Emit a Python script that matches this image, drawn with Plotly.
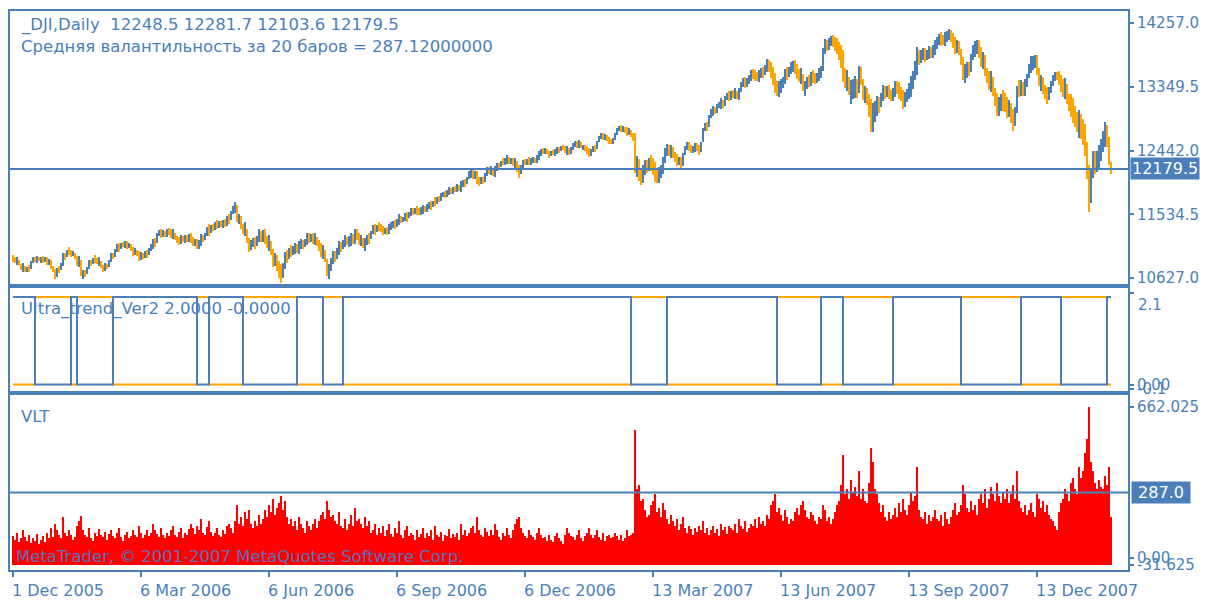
import plotly.graph_objects as go

# ---------------- data ----------------
close = [
10900, 10860, 10880, 10810, 10760, 10790, 10717, 10770, 10750, 10870,
10907, 10870, 10920, 10870, 10900, 10880, 10907, 10840, 10860, 10788,
10720, 10655, 10760, 10740, 10836, 10950, 10920, 11026, 11000, 10960,
10990, 10900, 10850, 10880, 10655, 10700, 10680, 10788, 10860, 10830,
10907, 10890, 10850, 10870, 10770, 10760, 10800, 10780, 10883, 10950,
10930, 11040, 11073, 11050, 11110, 11090, 11121, 11080, 11100, 11020,
10990, 11010, 10950, 10920, 10960, 10931, 10980, 10960, 11050, 11073,
11150, 11120, 11263, 11280, 11250, 11270, 11240, 11300, 11287, 11240,
11260, 11180, 11168, 11150, 11190, 11168, 11200, 11180, 11216, 11180,
11120, 11140, 11073, 11130, 11200, 11180, 11263, 11320, 11300, 11358,
11340, 11390, 11380, 11406, 11380, 11420, 11406, 11480, 11460, 11580,
11620, 11640, 11453, 11480, 11350, 11311, 11330, 11120, 11073, 11120,
11150, 11100, 11220, 11240, 11200, 11263, 11180, 11100, 11150, 10950,
10880, 10900, 10780, 10720, 10670, 10800, 10950, 10920, 11026, 11010,
11026, 11060, 11030, 11100, 11120, 11090, 11168, 11200, 11190, 11210,
11168, 11190, 11100, 11073, 10980, 11010, 10880, 10680, 10760, 10883,
10950, 10920, 11026, 11080, 11060, 11150, 11168, 11140, 11160, 11200,
11168, 11263, 11220, 11150, 11180, 11073, 11140, 11200, 11180, 11300,
11340, 11300, 11370, 11358, 11320, 11287, 11310, 11290, 11358, 11380,
11400, 11380, 11450, 11470, 11440, 11480, 11510, 11490, 11560, 11580,
11560, 11600, 11580, 11570, 11596, 11620, 11600, 11650, 11670, 11650,
11720, 11715, 11760, 11740, 11810, 11830, 11800, 11860, 11870, 11850,
11900, 11890, 11920, 11900, 11960, 11991, 11970, 12070, 12109, 12120,
12080, 12100, 12010, 11990, 12030, 12000, 12120, 12166, 12150, 12170,
12100, 12180, 12230, 12210, 12290, 12280, 12300, 12320, 12290, 12309,
12250, 12270, 12160, 12133, 12220, 12290, 12270, 12300, 12285, 12300,
12310, 12290, 12350, 12400, 12441, 12430, 12450, 12400, 12380, 12420,
12400, 12430, 12451, 12440, 12500, 12470, 12430, 12460, 12400, 12480,
12522, 12540, 12520, 12550, 12480, 12490, 12470, 12430, 12400, 12440,
12480, 12460, 12580, 12641, 12650, 12630, 12640, 12600, 12580, 12561,
12600, 12680, 12750, 12760, 12740, 12760, 12720, 12700, 12720, 12641,
12620, 12190, 12230, 12100, 12050, 12166, 12230, 12200, 12290, 12250,
12180, 12100, 12060, 12130, 12166, 12300, 12441, 12460, 12418, 12440,
12380, 12330, 12285, 12300, 12250, 12380, 12498, 12520, 12480, 12450,
12470, 12508, 12480, 12420, 12560, 12760, 12800, 12780, 12950, 12990,
13020, 13000, 13080, 13100, 13116, 13090, 13200, 13230, 13210, 13250,
13249, 13260, 13200, 13300, 13401, 13420, 13400, 13420, 13480, 13544,
13520, 13500, 13480, 13530, 13560, 13540, 13640, 13662, 13620, 13550,
13450, 13350, 13300, 13340, 13377, 13450, 13550, 13520, 13600, 13620,
13650, 13600, 13540, 13480, 13520, 13300, 13360, 13450, 13420, 13510,
13480, 13450, 13500, 13540, 13580, 13900, 13950, 13920, 13995, 14010,
13980, 13950, 13900, 13820, 13734, 13550, 13400, 13470, 13250, 13300,
13330, 13360, 13300, 13605, 13400, 13225, 13260, 13163, 13000, 12880,
12950, 13050, 13100, 13080, 13230, 13280, 13260, 13306, 13250, 13200,
13280, 13350, 13320, 13282, 13200, 13139, 13200, 13250, 13320, 13392,
13500, 13650, 13781, 13760, 13800, 13819, 13780, 13820, 13850, 13830,
13876, 13950, 14000, 14042, 14020, 14000, 14050, 14080, 14100, 14040,
13980, 13900, 13950, 13850, 13700, 13520, 13560, 13615, 13580, 13800,
13876, 13900, 13930, 13850, 13700, 13750, 13544, 13480, 13400, 13450,
13258, 13150, 13050, 13100, 13163, 13150, 13100, 13020, 13060, 12900,
12850, 13000, 13330, 13320, 13344, 13300, 13380, 13500, 13650, 13680,
13700, 13720, 13600, 13377, 13430, 13300, 13250, 13202, 13300, 13400,
13480, 13510, 13500, 13450, 13350, 13306, 13350, 13150, 13100, 13068,
12950, 12900, 12800, 12840, 12720, 12688, 12500, 12100, 11700, 12200,
12285, 12250, 12309, 12400, 12500, 12640, 12700, 12600, 12265, 12179.5,
]

vlt = [
95, 80, 110, 70, 85, 120, 90, 75, 100, 65,
88, 72, 105, 60, 80, 95, 70, 110, 85, 130,
90, 150, 120, 100, 85, 180, 110, 95, 120, 100,
80, 90, 140, 160, 185, 120, 100, 90, 130, 85,
75, 110, 95, 125, 100, 90, 115, 80, 105, 120,
95, 85, 110, 130, 90, 75, 100, 115, 85, 95,
120, 100, 90, 140, 110, 85, 100, 120, 95, 110,
150, 120, 105, 90, 130, 100, 85, 110, 95, 120,
140, 100, 90, 115, 130, 85, 110, 100, 125, 150,
130, 105, 140, 120, 170, 110, 100, 135, 160, 115,
95, 110, 130, 100, 90, 120, 105, 140, 150, 130,
110, 160, 230, 150, 180, 140, 200, 170, 210, 150,
130, 160, 140, 190, 150, 170, 210, 180, 230, 200,
260, 190, 220, 240, 270, 210, 250, 180, 150, 170,
140, 160, 120, 180, 150, 130, 110, 160, 140, 120,
150, 170, 130, 160, 190, 200, 170, 250, 210, 180,
190, 160, 150, 200, 140, 130, 170, 120, 150, 190,
140, 220, 160, 170, 150, 130, 180, 140, 160, 110,
120, 150, 100, 130, 110, 140, 95, 120, 150, 105,
90, 130, 110, 160, 100, 85, 120, 140, 95, 110,
100, 80, 120, 90, 105, 130, 85, 110, 95, 120,
80, 140, 100, 90, 115, 75, 100, 95, 125, 85,
105, 90, 110, 80, 150, 100, 120, 95, 110, 130,
140, 110, 180, 120, 100, 90, 130, 115, 95, 120,
100, 150, 120, 90, 80, 110, 95, 130, 100, 85,
120, 150, 170, 180, 130, 110, 95, 85, 120, 100,
90, 80, 110, 130, 100, 85, 90, 75, 100, 80,
70, 95, 110, 85, 75, 60, 100, 130, 110, 95,
90, 80, 100, 120, 85, 75, 95, 110, 130, 100,
85, 100, 120, 90, 80, 110, 75, 95, 100, 85,
90, 110, 95, 80, 100, 75, 85, 120, 95, 100,
110, 560, 300, 320, 250, 260, 210, 180, 190, 230,
250, 280, 200, 220, 180, 240, 210, 170, 150, 190,
160, 140, 170, 120, 150, 180, 130, 110, 140, 125,
100, 130, 115, 140, 120, 160, 110, 130, 100, 120,
140, 110, 125, 95, 150, 120, 135, 105, 140, 130,
120, 150, 110, 170, 140, 125, 160, 115, 130, 150,
140, 170, 130, 180, 150, 160, 140, 190, 170, 230,
250, 280, 200, 220, 190, 160, 210, 180, 150, 170,
160, 200, 220, 190, 230, 250, 210, 180, 170, 200,
190, 160, 150, 180, 170, 230, 210, 160, 180, 150,
170, 200, 230, 250, 320, 450, 280, 300, 260, 340,
290, 310, 270, 380, 260, 300, 250, 240, 330, 480,
420, 300, 280, 240, 200, 230, 180, 160, 200, 170,
190, 220, 180, 240, 200, 260, 210, 190, 230, 290,
250, 270, 400, 210, 180, 170, 200, 150, 190, 160,
180, 210, 170, 160, 190, 140, 200, 170, 150, 180,
210, 240, 190, 200, 230, 320, 280, 220, 200, 250,
210, 230, 190, 260, 280, 240, 300, 220, 260, 310,
280, 250, 330, 270, 240, 290, 260, 300, 240, 280,
320, 260, 380, 250, 220, 200, 230, 190, 210, 240,
200, 180, 280, 260, 220, 250, 200, 230, 190, 170,
160, 140, 120, 200, 240, 260, 300, 280, 250, 330,
350, 300, 280, 400, 350, 380, 460, 520, 662.025, 420,
380, 330, 300, 340, 310, 300, 360, 320, 400, 178.1,
]

first_open = 10912
last_open, last_high, last_low, last_close = 12248.5, 12281.7, 12103.6, 12179.5
avg_vlt = 287.12        # value quoted in the header text
vlt_level = 287.0       # horizontal level drawn in the VLT window

# Ultra_trend switches (bar index where the two lines swap)
trend_switch = [11, 29, 32, 50, 92, 98, 115, 142, 155, 165, 309, 327,
                382, 404, 415, 440, 474, 504, 524, 547]

price_ticks = [10627.0, 11534.5, 12442.0, 13349.5, 14257.0]
x_tick_bars = [0, 64, 128, 192, 256, 320, 384, 448, 512]
x_tick_labels = ["1 Dec 2005", "6 Mar 2006", "6 Jun 2006", "6 Sep 2006", "6 Dec 2006",
                 "13 Mar 2007", "13 Jun 2007", "13 Sep 2007", "13 Dec 2007"]
vlt_ticks = [662.025, 0.0, -31.625]
vlt_tick_text = ["662.025", "0.00", "-31.625"]
trend_ticks = [2.1, 0.0, -0.1]
trend_tick_text = ["", "0.00", "-0.1"]

assert len(close) == 550 and len(vlt) == 550, (len(close), len(vlt))

# ---------------- derived ----------------
n = len(close)
idx = list(range(n))
opn = [first_open] + close[:-1]
opn[-1] = last_open
high, low = [], []
for o, c, v in zip(opn, close, vlt):
    hi, lo = max(o, c), min(o, c)
    extra = max(v - (hi - lo), 0)
    high.append(hi + extra / 2)
    low.append(lo - extra / 2)
high[-1], low[-1] = last_high, last_low

BLUE = "#4B7FBA"
ORANGE = "#FFA500"
RED = "#FF0000"
FONT = "DejaVu Sans"

bar_colors = [BLUE if c >= o else ORANGE for o, c in zip(opn, close)]

blue_lvl, orange_lvl = [], []
blue_top = True
sw = set(trend_switch)
for i in idx:
    if i in sw:
        blue_top = not blue_top
    blue_lvl.append(2 if blue_top else 0)
    orange_lvl.append(0 if blue_top else 2)

VLT_MIN = vlt_ticks[-1]

# ---------------- figure ----------------
# the page body has an 8px margin, so the figure is laid out 8px smaller
OFF = 8
W, H = 1200, 593
ML, MR, MT, MB = 2, 80, 3, 31
PH = H - MT - MB
PW = W - ML - MR


def py(pix):
    return (H - MB - (pix - OFF)) / PH


def px(pix):
    return ((pix - OFF) - ML) / PW


fig = go.Figure()
fig.add_trace(go.Bar(x=idx, base=low, y=[h - l for h, l in zip(high, low)], width=1.0,
                     marker=dict(color=bar_colors, line=dict(width=0)),
                     xaxis="x", yaxis="y", hoverinfo="skip"))
fig.add_trace(go.Scatter(x=idx, y=orange_lvl, mode="lines",
                         line=dict(color=ORANGE, width=2, shape="hv"),
                         xaxis="x2", yaxis="y2", hoverinfo="skip"))
fig.add_trace(go.Scatter(x=idx, y=blue_lvl, mode="lines",
                         line=dict(color=BLUE, width=2, shape="hv"),
                         xaxis="x2", yaxis="y2", hoverinfo="skip"))
fig.add_trace(go.Bar(x=idx, base=VLT_MIN, y=[v - VLT_MIN for v in vlt], width=1.0,
                     marker=dict(color=RED, line=dict(width=0)),
                     xaxis="x3", yaxis="y3", hoverinfo="skip"))

xr = [-1.5, 557.5]
axis_common = dict(showline=True, linecolor=BLUE, linewidth=2, mirror=True,
                   showgrid=False, zeroline=False, fixedrange=True)
tickfont = dict(family=FONT, size=15, color=BLUE)
datefont = dict(family=FONT, size=16, color=BLUE)
titlefont = dict(family=FONT, size=16.5, color=BLUE)

fig.update_layout(
    width=W, height=H, margin=dict(l=ML, r=MR, t=MT, b=MB, autoexpand=False),
    paper_bgcolor="white", plot_bgcolor="white", showlegend=False,
    bargap=0, barmode="overlay",
    xaxis=dict(domain=[0, 1], range=xr, anchor="y", showticklabels=False, **axis_common),
    yaxis=dict(domain=[py(284), 1], range=[10542, 14428], side="right",
               tickvals=price_ticks, ticktext=[f"{v:.1f}" for v in price_ticks],
               ticks="outside", ticklen=4, tickcolor=BLUE, tickwidth=2,
               tickfont=tickfont, anchor="x", **axis_common),
    xaxis2=dict(domain=[0, 1], range=xr, anchor="y2", showticklabels=False, **axis_common),
    yaxis2=dict(domain=[py(391), py(288)], range=[-0.146, 2.205], side="right",
                tickvals=trend_ticks, ticktext=trend_tick_text,
                ticks="outside", ticklen=4, tickcolor=BLUE, tickwidth=2,
                tickfont=tickfont, anchor="x2", **axis_common),
    xaxis3=dict(domain=[0, 1], range=xr, anchor="y3", showticklabels=False,
                tickvals=x_tick_bars, ticks="outside", ticklen=5, tickcolor=BLUE,
                tickwidth=2, **axis_common),
    yaxis3=dict(domain=[0, py(395)], range=[-53.6, 714.7], side="right",
                tickvals=vlt_ticks, ticktext=vlt_tick_text,
                ticks="outside", ticklen=4, tickcolor=BLUE, tickwidth=2,
                tickfont=tickfont, anchor="x3", **axis_common),
)

# horizontal level lines
fig.add_shape(type="line", xref="x domain", yref="y", x0=0, x1=1, y0=last_close, y1=last_close,
              line=dict(color=BLUE, width=2))
fig.add_shape(type="line", xref="x3 domain", yref="y3", x0=0, x1=1, y0=vlt_level, y1=vlt_level,
              line=dict(color=BLUE, width=2))

ann = []
# price boxes
ann.append(dict(xref="paper", yref="y", x=1, y=last_close, xanchor="left", yanchor="middle",
                xshift=2, text=f"{last_close:.1f}", showarrow=False, bgcolor=BLUE,
                font=dict(family=FONT, size=16, color="white"), borderpad=1))
ann.append(dict(xref="paper", yref="y3", x=1, y=vlt_level, xanchor="left", yanchor="middle",
                xshift=3, text=f"&nbsp;{vlt_level:.1f}&nbsp;", showarrow=False, bgcolor=BLUE,
                font=dict(family=FONT, size=16, color="white"), borderpad=1))
# "2.1" label of the trend window
ann.append(dict(xref="paper", yref="paper", x=1, y=py(305), xanchor="left", yanchor="middle",
                xshift=8, text="2.1", showarrow=False, font=tickfont))
# titles
ann.append(dict(xref="paper", yref="paper", x=px(19), y=py(25), xanchor="left", yanchor="middle",
                text=f"_DJI,Daily  {last_open} {last_high} {last_low} {last_close}",
                showarrow=False, font=titlefont))
ann.append(dict(xref="paper", yref="paper", x=px(19), y=py(47), xanchor="left", yanchor="middle",
                text=f"Средняя валантильность за 20 баров = {avg_vlt:.8f}",
                showarrow=False, font=titlefont))
ann.append(dict(xref="paper", yref="paper", x=px(19), y=py(309), xanchor="left", yanchor="middle",
                text="Ultra_trend_Ver2 2.0000 -0.0000", showarrow=False, font=titlefont))
ann.append(dict(xref="paper", yref="paper", x=px(19), y=py(416), xanchor="left", yanchor="middle",
                text="VLT", showarrow=False, font=titlefont))
ann.append(dict(xref="paper", yref="paper", x=px(14), y=py(556), xanchor="left", yanchor="middle",
                text="MetaTrader, © 2001-2007 MetaQuotes Software Corp.", showarrow=False,
                font=dict(family=FONT, size=16.5, color="#5A6FB8")))
# date labels
for b, t in zip(x_tick_bars, x_tick_labels):
    ann.append(dict(xref="x3", yref="paper", x=b, y=py(590), xanchor="left", yanchor="middle",
                    xshift=-3, text=t, showarrow=False, font=datefont))

fig.update_layout(annotations=ann)
fig.write_html("out.html")
